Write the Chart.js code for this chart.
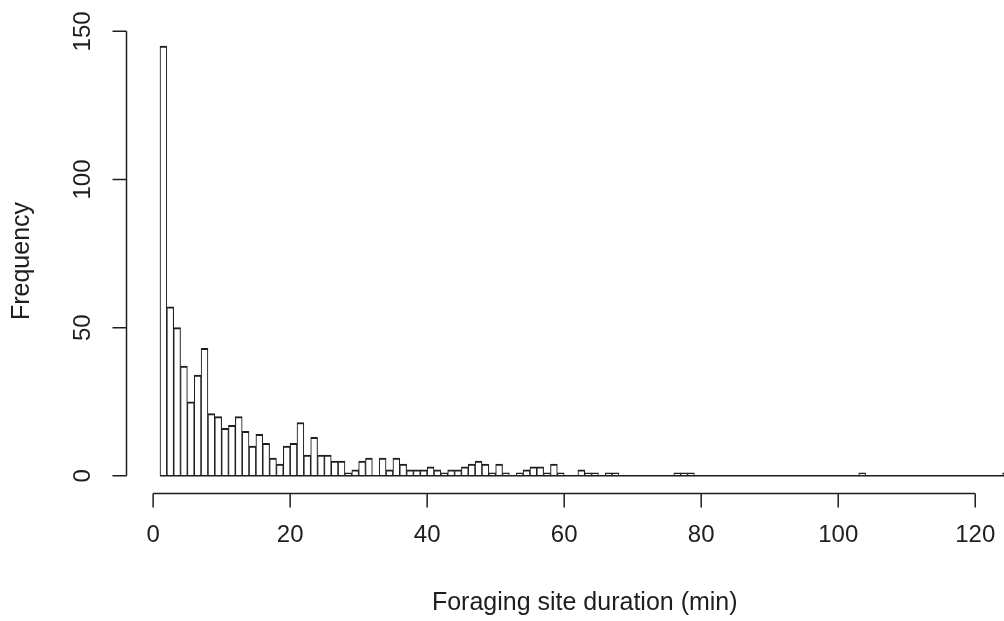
<!DOCTYPE html>
<html>
<head>
<meta charset="utf-8">
<title>Foraging site duration</title>
<script src="https://cdn.jsdelivr.net/npm/chart.js@4/dist/chart.umd.min.js"></script>
<style>
    html, body { margin: 0; padding: 0; background: #fff; }
    canvas { display: block; }
</style>
</head>
<body>
<canvas id="histDuracion" width="1004" height="621"></canvas>
<script>
'use strict';

// ─── Data ─────────────────────────────────────────────────────────────────────
// Histogram of foraging site durations, 1-minute bins starting at 1 min
const FIRST_BREAK = 1;
const BIN_WIDTH   = 1;
const counts = [
    145, 57, 50, 37, 25, 34, 43, 21, 20, 16,   // 1-10
     17, 20, 15, 10, 14, 11,  6,  4, 10, 11,   // 11-20
     18,  7, 13,  7,  7,  5,  5,  1,  2,  5,   // 21-30
      6,  0,  6,  2,  6,  4,  2,  2,  2,  3,   // 31-40
      2,  1,  2,  2,  3,  4,  5,  4,  1,  4,   // 41-50
      1,  0,  1,  2,  3,  3,  1,  4,  1,  0,   // 51-60
      0,  2,  1,  1,  0,  1,  1,  0,  0,  0,   // 61-70
      0,  0,  0,  0,  0,  1,  1,  1,  0,  0,   // 71-80
      0,  0,  0,  0,  0,  0,  0,  0,  0,  0,   // 81-90
      0,  0,  0,  0,  0,  0,  0,  0,  0,  0,   // 91-100
      0,  0,  1,  0,  0,  0,  0,  0,  0,  0,   // 101-110
      0,  0,  0,  0,  0,  0,  0,  0,  0,  0,   // 111-120
      0,  0,  0,  1                            // 121-124
];
const xTicks = [0, 20, 40, 60, 80, 100, 120];
const yTicks = [0, 50, 100, 150];
const xRange = [-3.96, 129.96];   // full plot region (user coords)
const xShown = [-3.96, 124.2];    // part of it that fits on the canvas
const yRange = [-5.8, 150.8];
const X_TITLE = 'Foraging site duration (min)';
const Y_TITLE = 'Frequency';

// ─── Styles ───────────────────────────────────────────────────────────────────
const INK        = '#1e1e1e';
const FONT_TICK  = '24px "Liberation Sans", Arial, sans-serif';
const FONT_TITLE = '25px "Liberation Sans", Arial, sans-serif';

const barPoints = counts.map(function (n, i) {
    return { x: FIRST_BREAK + (i + 0.5) * BIN_WIDTH, y: n };
});
const lastBreak = FIRST_BREAK + counts.length * BIN_WIDTH;
const baseLine  = [{ x: FIRST_BREAK, y: 0 }, { x: lastBreak, y: 0 }];

// ─── Base-style axes (detached, ticks outward) ────────────────────────────────
const ejesBase = {
    id: 'ejesBase',
    afterDraw: function (chart) {
        const ctx  = chart.ctx;
        const area = chart.chartArea;
        const sx   = chart.scales.x;
        const sy   = chart.scales.y;

        ctx.save();
        ctx.strokeStyle = INK;
        ctx.fillStyle   = INK;
        ctx.lineWidth   = 1.5;
        ctx.font        = FONT_TICK;

        // eje X
        const ay = Math.round(area.bottom) + 0.5;
        ctx.beginPath();
        ctx.moveTo(sx.getPixelForValue(xTicks[0]), ay);
        ctx.lineTo(sx.getPixelForValue(xTicks[xTicks.length - 1]), ay);
        xTicks.forEach(function (v) {
            const px = sx.getPixelForValue(v);
            ctx.moveTo(px, ay);
            ctx.lineTo(px, ay + 14);
        });
        ctx.stroke();
        ctx.textAlign    = 'center';
        ctx.textBaseline = 'middle';
        xTicks.forEach(function (v) {
            ctx.fillText(String(v), sx.getPixelForValue(v), ay + 42);
        });

        // eje Y
        const ax = Math.round(area.left) + 0.5;
        ctx.beginPath();
        ctx.moveTo(ax, sy.getPixelForValue(yTicks[0]));
        ctx.lineTo(ax, sy.getPixelForValue(yTicks[yTicks.length - 1]));
        yTicks.forEach(function (v) {
            const py = sy.getPixelForValue(v);
            ctx.moveTo(ax, py);
            ctx.lineTo(ax - 14, py);
        });
        ctx.stroke();
        yTicks.forEach(function (v) {
            ctx.save();
            ctx.translate(ax - 43, sy.getPixelForValue(v));
            ctx.rotate(-Math.PI / 2);
            ctx.fillText(String(v), 0, 0);
            ctx.restore();
        });

        // títulos, centrados en la región completa del gráfico
        ctx.font = FONT_TITLE;
        const cx = sx.getPixelForValue((xRange[0] + xRange[1]) / 2);
        ctx.fillText(X_TITLE, cx, ay + 110);
        ctx.save();
        ctx.translate(22, (area.top + area.bottom) / 2);
        ctx.rotate(-Math.PI / 2);
        ctx.fillText(Y_TITLE, 0, 0);
        ctx.restore();

        ctx.restore();
    },
};

// ─── Chart ────────────────────────────────────────────────────────────────────
const ctx = document.getElementById('histDuracion').getContext('2d');
new Chart(ctx, {
    type: 'bar',
    data: {
        datasets: [
            {
                type: 'line',
                data: baseLine,
                borderColor: INK,
                borderWidth: 1.6,
                pointRadius: 0,
                order: 0,
            },
            {
                data: barPoints,
                backgroundColor: '#ffffff',
                borderColor: INK,
                borderWidth: { top: 2, left: 1.1, right: 1.1, bottom: 0 },
                borderSkipped: false,
                barPercentage: 1,
                categoryPercentage: 1,
                order: 1,
            },
        ],
    },
    options: {
        responsive: false,
        animation: false,
        devicePixelRatio: 1,
        layout: {
            padding: { left: 126, top: 29, right: 0, bottom: 128 },
        },
        plugins: {
            legend:  { display: false },
            tooltip: { enabled: false },
        },
        scales: {
            x: {
                type: 'linear',
                display: false,
                offset: false,
                min: xShown[0],
                max: xShown[1],
                afterBuildTicks: function (scale) {
                    scale.ticks = xTicks.map(function (v) { return { value: v }; });
                },
            },
            y: {
                type: 'linear',
                display: false,
                min: yRange[0],
                max: yRange[1],
                afterBuildTicks: function (scale) {
                    scale.ticks = yTicks.map(function (v) { return { value: v }; });
                },
            },
        },
    },
    plugins: [ejesBase],
});
</script>
</body>
</html>
